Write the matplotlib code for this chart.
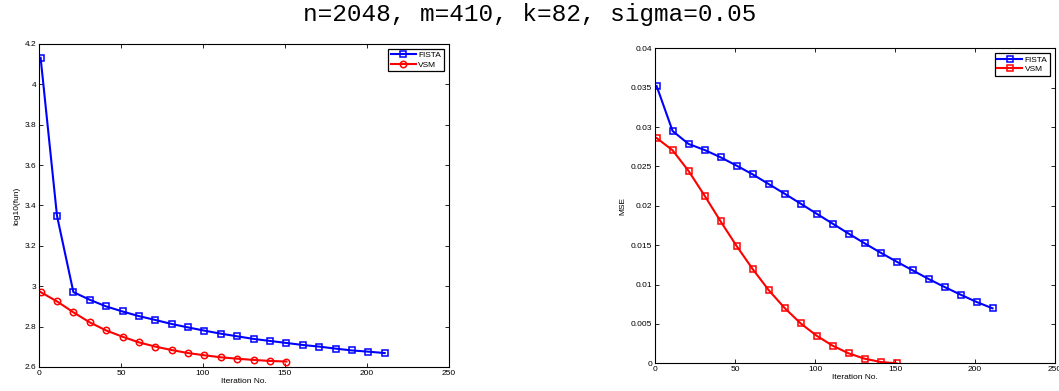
import matplotlib.pyplot as plt
import numpy as np

# iteration numbers
it_fista = [1, 11, 21, 31, 41, 51, 61, 71, 81, 91, 101, 111, 121, 131, 141, 151,
            161, 171, 181, 191, 201, 211]
it_vsm = [1, 11, 21, 31, 41, 51, 61, 71, 81, 91, 101, 111, 121, 131, 141, 151]

# left panel: log10(fun)
fun_fista = [4.132, 3.349, 2.971, 2.933, 2.900, 2.875, 2.852, 2.833, 2.813, 2.796,
             2.780, 2.765, 2.752, 2.739, 2.729, 2.719, 2.709, 2.701, 2.691, 2.682,
             2.676, 2.669]
fun_vsm = [2.971, 2.925, 2.871, 2.821, 2.781, 2.750, 2.722, 2.701, 2.684, 2.669,
           2.658, 2.648, 2.641, 2.635, 2.630, 2.627]

# right panel: MSE
mse_fista = [0.03522, 0.02950, 0.02785, 0.02709, 0.02616, 0.02510, 0.02400, 0.02277,
             0.02154, 0.02028, 0.01900, 0.01774, 0.01647, 0.01524, 0.01405, 0.01291,
             0.01181, 0.01071, 0.00969, 0.00872, 0.00779, 0.00698]
mse_vsm = [0.02861, 0.02705, 0.02442, 0.02129, 0.01803, 0.01490, 0.01198, 0.00931,
           0.00703, 0.00508, 0.00351, 0.00224, 0.00127, 0.00059, 0.00017, 0.0]

plt.rcParams['font.family'] = ['Liberation Sans', 'DejaVu Sans']
fig = plt.figure(figsize=(10.59, 3.91), dpi=100)

fig.text(0.5, 0.962, 'n=2048, m=410, k=82, sigma=0.05', ha='center', va='center',
         fontsize=17.6, family='Liberation Mono')

ax1 = fig.add_axes([0.0368, 0.0614, 0.3868, 0.8261])
ax2 = fig.add_axes([0.6185, 0.0708, 0.3777, 0.8057])

lw = 1.5
ms = 4.0
ax1.plot(it_fista, fun_fista, color='#0000ff', lw=lw, marker='s', ms=ms,
         mfc='none', mew=1.1, label='FISTA')
ax1.plot(it_vsm, fun_vsm, color='#ff0000', lw=lw, marker='o', ms=ms + 0.6,
         mfc='none', mew=1.1, label='VSM')
ax1.set_xlim(0, 250)
ax1.set_ylim(2.6, 4.2)
ax1.set_yticks(np.arange(2.6, 4.21, 0.2))
ax1.set_yticklabels(['2.6', '2.8', '3', '3.2', '3.4', '3.6', '3.8', '4', '4.2'])
ax1.set_ylabel('log10(fun)', fontsize=6, labelpad=3)

ax2.plot(it_fista, mse_fista, color='#0000ff', lw=lw, marker='s', ms=ms,
         mfc='none', mew=1.1, label='FISTA')
ax2.plot(it_vsm, mse_vsm, color='#ff0000', lw=lw, marker='s', ms=ms,
         mfc='none', mew=1.1, label='VSM')
ax2.set_xlim(0, 250)
ax2.set_ylim(0, 0.04)
ax2.set_yticks(np.arange(0, 0.0401, 0.005))
ax2.set_yticklabels(['0', '0.005', '0.01', '0.015', '0.02', '0.025', '0.03',
                     '0.035', '0.04'])
ax2.set_ylabel('MSE', fontsize=6, labelpad=3)

for ax in (ax1, ax2):
    ax.set_xticks([0, 50, 100, 150, 200, 250])
    ax.set_xlabel('Iteration No.', fontsize=6, labelpad=1)
    ax.tick_params(direction='in', top=True, right=True, labelsize=6,
                   length=3, width=0.6, pad=2)
    for s in ax.spines.values():
        s.set_linewidth(0.8)
    leg = ax.legend(loc='upper right', fontsize=6, fancybox=False,
                    edgecolor='black', framealpha=1, borderpad=0.3,
                    handlelength=3.0, handletextpad=0.3, labelspacing=0.2,
                    borderaxespad=0.6)
    leg.get_frame().set_linewidth(0.9)

fig.savefig('out.png', dpi=100)
